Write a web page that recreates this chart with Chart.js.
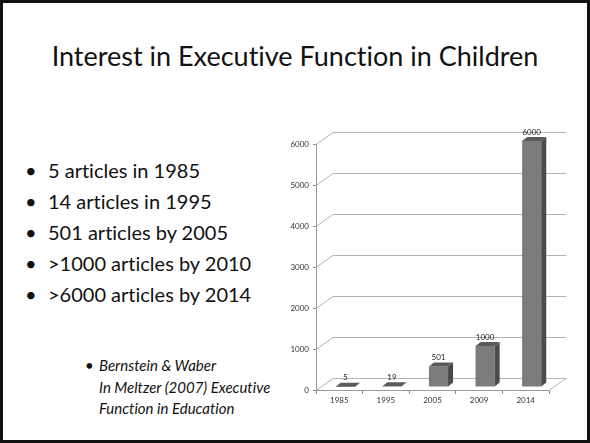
<!DOCTYPE html>
<html lang="en">
<head>
  <meta charset="UTF-8">
  <title>Interest in Executive Function in Children</title>
  <script src="https://cdn.jsdelivr.net/npm/chart.js"></script>
</head>
<style>
  body {
    margin: 0;
    background-color: #fff;
    font-family: Lato, 'Open Sans', sans-serif;
    font-variant-ligatures: none;
    color: #111;
  }

  .slide {
    position: relative;
    width: 590px;
    height: 443px;
    border: 3px solid #111;
    box-sizing: border-box;
    overflow: hidden;
  }

  .titulo {
    position: absolute;
    left: 0;
    top: 36px;
    width: 584px;
    text-align: center;
    font-size: 27px;
    margin: 0;
    font-weight: normal;
  }

  .pontos {
    position: absolute;
    left: 0;
    top: 152px;
    margin: 0;
    padding: 0;
    list-style: none;
    font-size: 20px;
    line-height: 31px;
  }

  .pontos li {
    position: relative;
    padding-left: 45px;
  }

  .pontos li::before {
    content: "•";
    position: absolute;
    left: 22px;
  }

  .fonte {
    position: absolute;
    left: 96px;
    top: 352px;
    font-size: 15px;
    font-style: italic;
    line-height: 21.5px;
  }

  .fonte::before {
    content: "•";
    position: absolute;
    left: -14px;
    font-style: normal;
  }

  #graficoArtigos {
    position: absolute;
    left: 267px;
    top: 117px;
  }
</style>

<body>
  <div class="slide">
    <h1 class="titulo">Interest in Executive Function in Children</h1>

    <ul class="pontos">
      <li>5 articles in 1985</li>
      <li>14 articles in 1995</li>
      <li>501 articles by 2005</li>
      <li>&gt;1000 articles by 2010</li>
      <li>&gt;6000 articles by 2014</li>
    </ul>

    <div class="fonte">
      Bernstein &amp; Waber<br>
      In Meltzer (2007) Executive<br>
      Function in Education
    </div>

    <canvas id="graficoArtigos" width="310" height="300"></canvas>
  </div>
</body>

</html>
<script>
  // dados do grafico
  const anos = ['1985', '1995', '2005', '2009', '2014'];
  const artigos = [5, 19, 501, 1000, 6000];
  const eixoMax = 6000;
  const eixoPasso = 1000;

  // profundidade da "caixa" 3D (parede do fundo) e das barras
  const FUNDO_X = 17, FUNDO_Y = 12;
  const BARRA_DX = 6, BARRA_DY = -3;
  const LADO_X = 5, LADO_Y = 4;

  const efeito3d = {
    id: 'efeito3d',
    beforeDatasetsDraw(chart) {
      const { ctx, chartArea, scales } = chart;
      const { left, right, bottom } = chartArea;
      const y = scales.y;

      ctx.save();
      ctx.strokeStyle = '#b3b3b3';
      ctx.lineWidth = 1;
      // linhas de grade na parede do fundo + diagonais da parede esquerda
      y.ticks.forEach(t => {
        const py = Math.round(y.getPixelForValue(t.value)) + 0.5;
        ctx.beginPath();
        ctx.moveTo(left, py);
        ctx.lineTo(left + FUNDO_X, py - FUNDO_Y);
        ctx.lineTo(right + FUNDO_X, py - FUNDO_Y);
        ctx.stroke();
      });
      // canto direito do chao
      ctx.beginPath();
      ctx.moveTo(right, bottom + 0.5);
      ctx.lineTo(right + FUNDO_X, bottom + 0.5 - FUNDO_Y);
      ctx.stroke();
      ctx.restore();

      // barras um pouco para dentro da caixa
      ctx.save();
      ctx.translate(BARRA_DX, BARRA_DY);
    },
    afterDatasetsDraw(chart) {
      const { ctx } = chart;
      const meta = chart.getDatasetMeta(0);

      meta.data.forEach((bar, i) => {
        const l = bar.x - bar.width / 2;
        const r = bar.x + bar.width / 2;
        const topo = bar.y;
        const base = bar.base;

        // face de cima
        ctx.fillStyle = '#5a5a5a';
        ctx.beginPath();
        ctx.moveTo(l, topo);
        ctx.lineTo(l + LADO_X, topo - LADO_Y);
        ctx.lineTo(r + LADO_X, topo - LADO_Y);
        ctx.lineTo(r, topo);
        ctx.closePath();
        ctx.fill();

        // face lateral
        ctx.fillStyle = '#4a4a4a';
        ctx.beginPath();
        ctx.moveTo(r, topo);
        ctx.lineTo(r + LADO_X, topo - LADO_Y);
        ctx.lineTo(r + LADO_X, base - LADO_Y);
        ctx.lineTo(r, base);
        ctx.closePath();
        ctx.fill();

        // rotulo de valor
        ctx.fillStyle = '#222';
        ctx.font = '8px Lato, sans-serif';
        ctx.textAlign = 'center';
        ctx.textBaseline = 'bottom';
        ctx.fillText(artigos[i], bar.x, topo - LADO_Y - 1);
      });

      ctx.restore();
    }
  };

  const ctx = document.getElementById('graficoArtigos').getContext('2d');

  const grafico = new Chart(ctx, {
    type: 'bar',
    data: {
      labels: anos,
      datasets: [
        {
          label: 'Articles',
          data: artigos,
          backgroundColor: '#7b7b7b',
          borderWidth: 0,
          barPercentage: 0.41,
          categoryPercentage: 1
        }
      ]
    },
    options: {
      responsive: false,
      animation: false,
      layout: {
        padding: { left: 6, right: 31, top: 24, bottom: 8 }
      },
      scales: {
        x: {
          grid: {
            offset: true,
            drawOnChartArea: false,
            tickLength: 4,
            color: '#8a8a8a'
          },
          border: { color: '#9a9a9a' },
          ticks: {
            color: '#333',
            padding: 2,
            font: { size: 8, family: 'Lato, sans-serif' }
          },
          afterFit: s => { s.height = 22; }
        },
        y: {
          min: 0,
          max: eixoMax,
          grid: {
            drawOnChartArea: false,
            tickLength: 3,
            color: '#8a8a8a'
          },
          border: { color: '#9a9a9a' },
          ticks: {
            stepSize: eixoPasso,
            color: '#333',
            padding: 4,
            font: { size: 8, family: 'Lato, sans-serif' },
            callback: v => String(v)
          },
          afterFit: s => { s.width = 40; }
        }
      },
      plugins: {
        legend: { display: false },
        tooltip: { enabled: false }
      }
    },
    plugins: [efeito3d]
  });
</script>
